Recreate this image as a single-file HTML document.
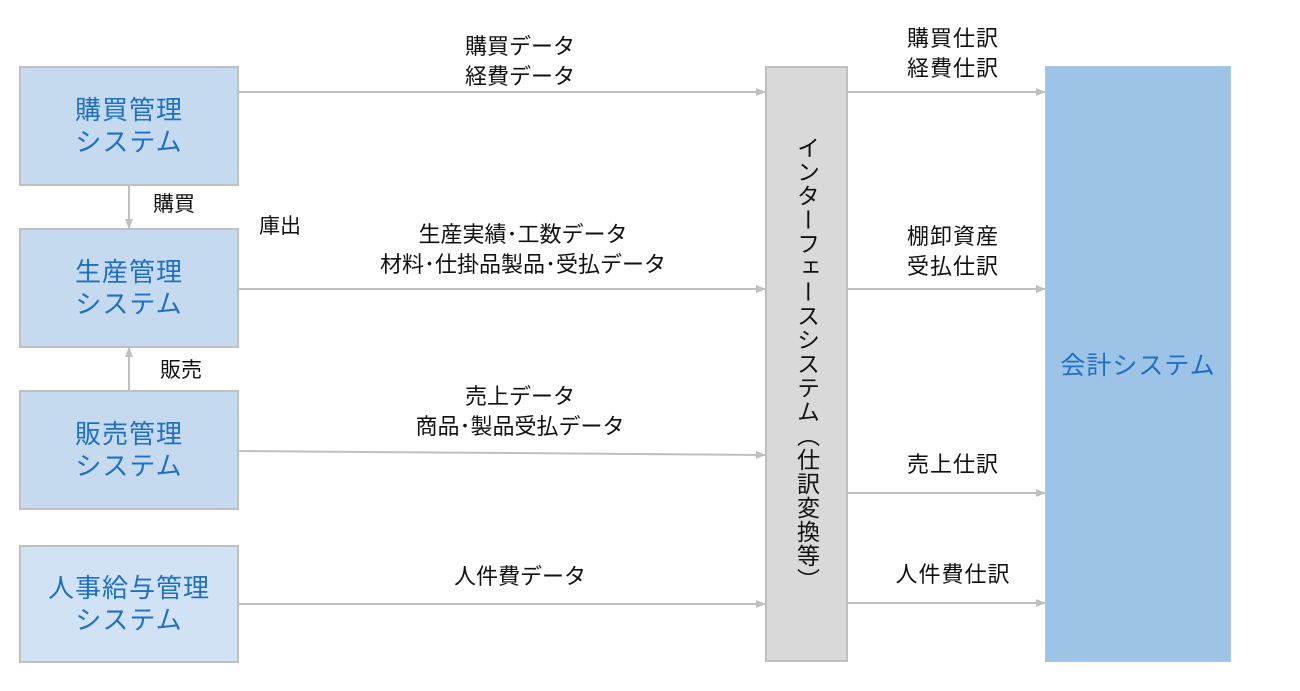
<!DOCTYPE html>
<html><head><meta charset="utf-8"><style>
body{margin:0;width:1300px;height:691px;background:#fff;position:relative;overflow:hidden;font-family:"Liberation Sans","Noto Sans CJK JP",sans-serif;}
.b{position:absolute;background:#c5daef;border:2px solid #c0c0c0;box-sizing:border-box;color:#1f70c1;font-size:26px;line-height:32px;text-align:center;display:flex;align-items:center;justify-content:center;letter-spacing:1px;}
.t{position:absolute;font-size:22px;line-height:30px;color:#111;text-align:center;white-space:nowrap;}
svg{position:absolute;left:0;top:0;}
</style></head><body>
<svg width="1300" height="691">
<defs><marker id="a" markerWidth="10" markerHeight="10" refX="9" refY="5" orient="auto" markerUnits="userSpaceOnUse"><path d="M0,1 L10,5 L0,9 Z" fill="#bfbfbf"/></marker></defs>
<g stroke="#bfbfbf" stroke-width="2" fill="none">
<line x1="238" y1="92" x2="765" y2="92" marker-end="url(#a)"/>
<line x1="238" y1="289" x2="765" y2="289" marker-end="url(#a)"/>
<line x1="238" y1="451" x2="765" y2="455" marker-end="url(#a)"/>
<line x1="238" y1="604" x2="765" y2="604" marker-end="url(#a)"/>
<line x1="847" y1="92" x2="1045" y2="92" marker-end="url(#a)"/>
<line x1="847" y1="289" x2="1045" y2="289" marker-end="url(#a)"/>
<line x1="847" y1="493" x2="1045" y2="493" marker-end="url(#a)"/>
<line x1="847" y1="603" x2="1045" y2="603" marker-end="url(#a)"/>
<line x1="129" y1="185" x2="129" y2="228" marker-end="url(#a)"/>
<line x1="129" y1="391" x2="129" y2="348" marker-end="url(#a)"/>
</g></svg>
<div class="b" style="left:19px;top:66px;width:220px;height:120px">購買管理<br>システム</div>
<div class="b" style="left:19px;top:228px;width:220px;height:120px">生産管理<br>システム</div>
<div class="b" style="left:19px;top:390px;width:220px;height:120px">販売管理<br>システム</div>
<div class="b" style="left:19px;top:545px;width:220px;height:118px;background:#d0e2f3">人事給与管理<br>システム</div>
<div style="position:absolute;left:765px;top:66px;width:83px;height:596px;background:#d9d9d9;border:2px solid #c0c0c0;box-sizing:border-box;display:flex;align-items:center;justify-content:center;">
<div style="writing-mode:vertical-rl;font-size:23px;letter-spacing:1px;color:#111;">インターフェースシステム（仕訳変換等）</div></div>
<div style="position:absolute;left:1045px;top:66px;width:186px;height:596px;background:#9dc3e6;border:1px solid #aac8e4;box-sizing:border-box;display:flex;align-items:center;justify-content:center;color:#1f70c1;font-size:25px;letter-spacing:1px;">会計システム</div>
<div class="t" style="left:420px;top:32px;width:200px">購買データ<br>経費データ</div>
<div class="t" style="left:343px;top:220px;width:360px">生産実績･工数データ<br>材料･仕掛品製品･受払データ</div>
<div class="t" style="left:380px;top:382px;width:280px">売上データ<br>商品･製品受払データ</div>
<div class="t" style="left:420px;top:562px;width:200px">人件費データ</div>
<div class="t" style="left:860px;top:24px;width:186px;letter-spacing:1px">購買仕訳<br>経費仕訳</div>
<div class="t" style="left:860px;top:222px;width:186px;letter-spacing:1px">棚卸資産<br>受払仕訳</div>
<div class="t" style="left:860px;top:450px;width:186px;letter-spacing:1px">売上仕訳</div>
<div class="t" style="left:860px;top:560px;width:186px;letter-spacing:1px">人件費仕訳</div>
<div class="t" style="left:153px;top:190px;font-size:21px">購買</div>
<div class="t" style="left:259px;top:212px;font-size:21px">庫出</div>
<div class="t" style="left:160px;top:356px;font-size:21px">販売</div>
</body></html>
